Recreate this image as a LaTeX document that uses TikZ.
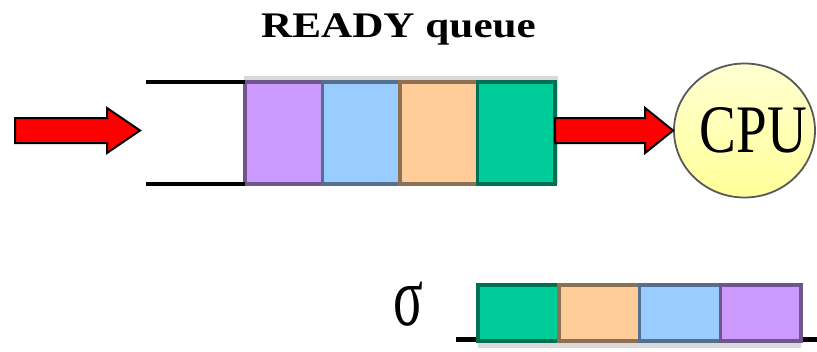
\documentclass[tikz,border=0pt]{standalone}
\usepackage{fontspec}
\setmainfont{Liberation Serif}
\usetikzlibrary{calc,positioning,shapes.geometric}

\definecolor{jobpurple}{HTML}{CC99FF}
\definecolor{jobblue}{HTML}{99CCFF}
\definecolor{joborange}{HTML}{FFCC99}
\definecolor{jobgreen}{HTML}{00CC99}
\definecolor{cpuyellow}{HTML}{FFFF99}
\definecolor{arrowred}{HTML}{FF0000}

\tikzset{
    slot/.style={draw=#1!55!black, fill=#1, line width=3.5pt,
        minimum width=77.5pt, minimum height=102pt, inner sep=0pt, outer sep=0pt},
    smallslot/.style={slot=#1, minimum width=80.75pt, minimum height=56pt},
    boxshadow/.style={fill=black!15},
    edge line/.style={line width=3.5pt},
    fatarrow/.style={fill=arrowred, draw=black, line width=2pt, line join=miter},
    cpu/.style={ellipse, draw=black!65, line width=1.8pt,
        top color=cpuyellow!45!white, bottom color=cpuyellow,
        minimum width=141pt, minimum height=134pt, inner sep=0pt,
        font=\fontsize{68pt}{68pt}\selectfont}
}

% block arrow: from, to, head length
\newcommand{\fatarrow}[3]{%
    \draw[fatarrow] let \p1=(#1), \p2=(#2) in
        (\x1,\y2+12.5pt) -- (\x2-#3,\y2+12.5pt) -- (\x2-#3,\y2+22.5pt)
        -- (\x2,\y2) -- (\x2-#3,\y2-22.5pt) -- (\x2-#3,\y2-12.5pt)
        -- (\x1,\y2-12.5pt) -- cycle;}

\begin{document}
\begin{tikzpicture}[x=1pt,y=-1pt]
    \useasboundingbox (0,0) rectangle (817,351);

    % title
        \node[anchor=base, font=\fontsize{36pt}{36pt}\bfseries] (title) at (398.5,37)
            {\scalebox{1.2}[1]{READY queue}};

    % ready queue
        \fill[boxshadow] (244,76) rectangle (558,184);
        \node[slot=jobpurple] (p1) at (283.75,133) {};
        \node[slot=jobblue, right=0pt of p1] (b1) {};
        \node[slot=joborange, right=0pt of b1] (o1) {};
        \node[slot=jobgreen, right=0pt of o1] (g1) {};

    % open end of the queue
        \coordinate (qtop) at (146,82);
        \coordinate (qbot) at (146,184);
        \draw[edge line] (qtop) -- (p1.north west);
        \draw[edge line] (qbot) -- (p1.south west);

    % cpu
        \node[cpu] (cpu) at (744.5,130.5)
            {\makebox[0pt][c]{\hspace*{18pt}\raisebox{-4pt}{\scalebox{0.81}[1]{CPU}}}};

    % arrows
        \coordinate (src) at (15,130.5);
        \coordinate (dst) at (140,130.5);
        \fatarrow{src}{dst}{33pt}
        \fatarrow{g1.east}{cpu.west}{28pt}

    % order of service
        \node[anchor=base, font=\fontsize{85pt}{85pt}\selectfont] (sigma) at (408,325)
            {\scalebox{0.65}[1]{σ}};
        \coordinate (lineL) at (456,339);
        \coordinate (lineR) at (817,339);
        \draw[line width=5pt] (lineL) -- (lineR);
        \fill[boxshadow] (478,300) rectangle (801,348);
        \node[smallslot=jobgreen] (g2) at (518.4,313) {};
        \node[smallslot=joborange, right=0pt of g2] (o2) {};
        \node[smallslot=jobblue, right=0pt of o2] (b2) {};
        \node[smallslot=jobpurple, right=0pt of b2] (p2) {};

\end{tikzpicture}
\end{document}
